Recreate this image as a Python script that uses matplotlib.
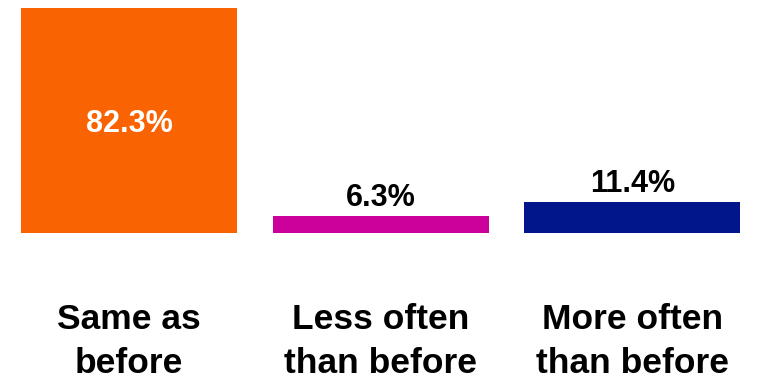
import matplotlib
matplotlib.use("Agg")
import matplotlib.pyplot as plt

# chart data
categories = ["Same as\nbefore", "Less often\nthan before", "More often\nthan before"]
values = [82.3, 6.3, 11.4]
value_labels = ["82.3%", "6.3%", "11.4%"]
bar_colors = ["#F96302", "#CC009B", "#00168A"]

plt.rcParams['font.family'] = ['Liberation Sans', 'DejaVu Sans']

fig = plt.figure(figsize=(7.71, 3.81), dpi=100)
ax = fig.add_axes([0, 0, 1, 1])

x = list(range(len(values)))
ax.bar(x, values, width=0.858, color=bar_colors)

# px per unit: x 251.7, y 2.734 ; bar baseline at y=233 px from top
ax.set_xlim(-129 / 251.7, (771 - 129) / 251.7)
ax.set_ylim(-(381 - 233) / 2.734, 233 / 2.734)
ax.axis('off')

for i, (v, lab) in enumerate(zip(values, value_labels)):
    if v > 40:
        # big bar: label sits inside
        ax.text(i, v * 0.45, lab, ha='center', va='baseline',
                color='white', fontsize=22, fontweight='bold')
    else:
        ax.text(i, v + 3.5, lab, ha='center', va='baseline',
                color='black', fontsize=22, fontweight='bold')

# category labels, one text per line so the spacing is exact
for i, cat in enumerate(categories):
    for j, line in enumerate(cat.split("\n")):
        ax.text(i, -35.1 - 16.1 * j, line, ha='center', va='baseline',
                color='black', fontsize=25.5, fontweight='bold')

fig.savefig("out.png", dpi=100)
